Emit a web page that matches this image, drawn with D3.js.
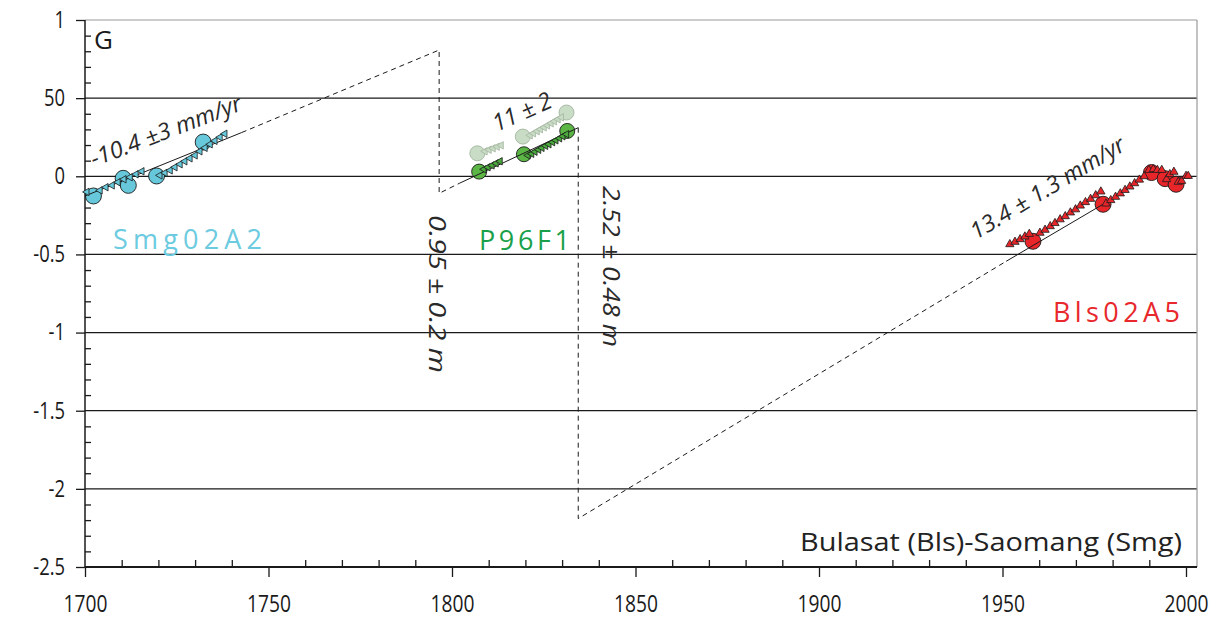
<!DOCTYPE html>
<html>
<head>
<meta charset="utf-8">
<script src="https://cdn.jsdelivr.net/npm/d3@7"></script>
<style>
  html, body { margin: 0; padding: 0; background: #fff; }
  svg { display: block; font-family: "Open Sans", "Noto Sans", sans-serif; }
</style>
</head>
<body>
<svg id="chart" width="1211" height="619"></svg>
<script>
// ---- Axis ticks ----
const xTicks = [1700, 1750, 1800, 1850, 1900, 1950, 2000];
const yTicks = [1, 0.5, 0, -0.5, -1, -1.5, -2, -2.5];
const yTickLabels = ["1", "50", "0", "-0.5", "-1", "-1.5", "-2", "-2.5"];
const gridValues = [0.5, 0, -0.5, -1, -1.5, -2];

// ---- Smg02A2 (light blue) ----
const smgYears  = [1702.3, 1710.4, 1711.8, 1719.5, 1732.2];
const smgValues = [-0.126, -0.013, -0.058, 0.002, 0.219];
const smgBandYears  = [1700.5, 1704.1, 1705.7, 1707.4, 1709.0, 1710.6, 1712.3, 1713.9, 1715.5,
                       1720.4, 1721.8, 1723.2, 1724.5, 1725.9, 1727.2, 1728.6, 1730.0, 1731.3,
                       1732.7, 1734.1, 1735.4, 1736.8, 1738.1];
const smgBandValues = [-0.100, -0.090, -0.070, -0.058, -0.038, -0.019, -0.006, 0.013, 0.032,
                       0.006, 0.022, 0.038, 0.058, 0.077, 0.096, 0.115, 0.134, 0.160,
                       0.182, 0.205, 0.227, 0.250, 0.272];
const smgFitYears  = [1700, 1742.7];
const smgFitValues = [-0.126, 0.28];

// ---- P96F1 (green) ----
const p96Years  = [1807.4, 1819.6, 1831.4];
const p96Values = [0.030, 0.141, 0.290];
const p96BandYears  = [1808.7, 1809.8, 1810.9, 1812.0, 1813.1,
                       1820.7, 1821.7, 1822.6, 1823.6, 1824.5, 1825.5, 1826.4, 1827.4, 1828.3, 1829.3, 1830.2, 1831.2];
const p96BandValues = [0.045, 0.058, 0.070, 0.083, 0.096,
                       0.134, 0.144, 0.157, 0.170, 0.182, 0.195, 0.205, 0.218, 0.230, 0.243, 0.256, 0.269];
const p96FitYears  = [1802, 1834.4];
const p96FitValues = [-0.045, 0.311];

// ---- P96F1 uncorrected (faded) ----
const p96RawYears  = [1806.9, 1819.3, 1831.2];
const p96RawValues = [0.147, 0.254, 0.408];
const p96RawBandYears  = [1809.0, 1810.1, 1811.2, 1812.3, 1813.4,
                          1821.3, 1822.2, 1823.2, 1824.1, 1825.1, 1826.0, 1827.0, 1827.9, 1828.9, 1829.8];
const p96RawBandValues = [0.160, 0.170, 0.179, 0.189, 0.198,
                          0.262, 0.275, 0.288, 0.301, 0.313, 0.326, 0.339, 0.352, 0.365, 0.377];

// ---- Bls02A5 (red) ----
const blsYears  = [1958.3, 1977.4, 1990.6, 1994.3, 1997.3];
const blsValues = [-0.416, -0.179, 0.024, -0.015, -0.051];
const blsBandYears  = [1952.0, 1953.4, 1954.8, 1956.1, 1957.3,
                       1960.2, 1961.6, 1963.0, 1964.3, 1965.7, 1967.1, 1968.5,
                       1969.9, 1971.2, 1972.6, 1974.0, 1975.4, 1976.8,
                       1978.2, 1979.5, 1980.8, 1982.1, 1983.4, 1984.7, 1986.0, 1987.3, 1988.6,
                       1989.9, 1991.1, 1992.2, 1993.4, 1994.7, 1995.6, 1996.7, 1997.9, 1998.8, 2000.0, 2000.6];
const blsBandValues = [-0.435, -0.420, -0.403, -0.386, -0.369,
                       -0.362, -0.343, -0.320, -0.300, -0.276, -0.256, -0.232,
                       -0.212, -0.188, -0.166, -0.145, -0.122, -0.098,
                       -0.175, -0.153, -0.132, -0.110, -0.088, -0.066, -0.045, -0.022, 0.000,
                       0.040, 0.045, 0.040, 0.040, -0.019, 0.013, 0.028, -0.036, -0.030, 0.002, 0.002];
const blsFitYears  = [1951, 1977.4];
const blsFitValues = [-0.544, -0.179];

// ---- Extrapolated cycles (dashed) ----
const cycleAYears  = [1742.7, 1796.5, 1796.5, 1802];
const cycleAValues = [0.28, 0.808, -0.109, -0.045];
const cycleBYears  = [1834.4, 1834.4, 1951];
const cycleBValues = [0.311, -2.19, -0.544];

// ---- Layout ----
const svg = d3.select("#chart");
const x = d3.scaleLinear().domain([1700, 2000]).range([85, 1186]);
const y = d3.scaleLinear().domain([-2.5, 1]).range([567, 20]);
const xEnd = 2003;
const ink = "#1a1a1a";

svg.append("rect").attr("width", 1211).attr("height", 619).attr("fill", "#fff");

// horizontal grid
svg.append("g").selectAll("line").data(gridValues).join("line")
  .attr("x1", x(1700)).attr("x2", x(xEnd))
  .attr("y1", d => y(d)).attr("y2", d => y(d))
  .attr("stroke", ink).attr("stroke-width", 1.3);

// light frame on top and right
svg.append("line").attr("x1", x(1700)).attr("x2", x(xEnd)).attr("y1", y(1)).attr("y2", y(1))
  .attr("stroke", "#9a9a9a").attr("stroke-width", 1.2);
svg.append("line").attr("x1", x(xEnd)).attr("x2", x(xEnd)).attr("y1", y(1)).attr("y2", y(-2.5))
  .attr("stroke", "#9a9a9a").attr("stroke-width", 1.2);

// minor ticks
const xMinor = d3.range(1710, 2001, 10).filter(v => v % 50 !== 0);
const yMinor = d3.range(-24, 10).map(v => v / 10).filter(v => Math.abs(v * 10) % 5 !== 0);
svg.append("g").attr("transform", `translate(0,${y(-2.5)})`)
  .call(d3.axisBottom(x).tickValues(xMinor).tickSize(-7).tickFormat(""))
  .call(g => g.select(".domain").remove())
  .selectAll("line").attr("stroke", ink).attr("stroke-width", 1.3);
svg.append("g").attr("transform", `translate(${x(1700)},0)`)
  .call(d3.axisLeft(y).tickValues(yMinor).tickSize(-6).tickFormat(""))
  .call(g => g.select(".domain").remove())
  .selectAll("line").attr("stroke", ink).attr("stroke-width", 1.3);

// major axes
const squeeze = 0.8;
svg.append("g").attr("transform", `translate(0,${y(-2.5)})`)
  .call(d3.axisBottom(x).tickValues(xTicks).tickSize(10).tickPadding(18).tickFormat(d3.format("d")))
  .call(g => g.select(".domain").remove())
  .call(g => g.selectAll("line").attr("stroke", ink).attr("stroke-width", 1.3))
  .call(g => g.selectAll("text").attr("font-size", 24).attr("fill", ink)
    .attr("font-family", "'Open Sans', sans-serif")
    .attr("transform", `scale(${squeeze},1)`));

svg.append("g").attr("transform", `translate(${x(1700)},0)`)
  .call(d3.axisLeft(y).tickValues(yTicks).tickSize(9).tickPadding(11)
    .tickFormat((d, i) => yTickLabels[i]))
  .call(g => g.select(".domain").remove())
  .call(g => g.selectAll("line").attr("stroke", ink).attr("stroke-width", 1.3))
  .call(g => g.selectAll("text").attr("font-size", 23).attr("fill", ink)
    .attr("font-family", "'Open Sans', sans-serif")
    .attr("x", -20 / squeeze)
    .attr("transform", `scale(${squeeze},1)`));

svg.append("line").attr("x1", x(1700)).attr("x2", x(1700)).attr("y1", y(1)).attr("y2", y(-2.5))
  .attr("stroke", ink).attr("stroke-width", 1.5);
svg.append("line").attr("x1", x(1700)).attr("x2", x(xEnd)).attr("y1", y(-2.5)).attr("y2", y(-2.5))
  .attr("stroke", ink).attr("stroke-width", 2.2);

// ---- helpers ----
const zip = (xs, ys) => xs.map((v, i) => [v, ys[i]]);
const line = d3.line().x(d => x(d[0])).y(d => y(d[1]));

function dashed(xs, ys) {
  svg.append("path").attr("d", line(zip(xs, ys)))
    .attr("fill", "none").attr("stroke", ink).attr("stroke-width", 1)
    .attr("stroke-dasharray", "5,4");
}
function fit(xs, ys) {
  svg.append("path").attr("d", line(zip(xs, ys)))
    .attr("fill", "none").attr("stroke", ink).attr("stroke-width", 1);
}
function circles(xs, ys, fill, stroke, r) {
  svg.append("g").selectAll("circle").data(zip(xs, ys)).join("circle")
    .attr("cx", d => x(d[0])).attr("cy", d => y(d[1])).attr("r", r)
    .attr("fill", fill).attr("stroke", stroke).attr("stroke-width", 0.9);
}
function bands(xs, ys, fill, stroke, angle, size) {
  const sym = d3.symbol(d3.symbolTriangle, size);
  svg.append("g").selectAll("path").data(zip(xs, ys)).join("path")
    .attr("d", sym)
    .attr("transform", d => `translate(${x(d[0])},${y(d[1])}) rotate(${angle})`)
    .attr("fill", fill).attr("stroke", stroke).attr("stroke-width", 0.8);
}

// extrapolated cycles
dashed(cycleAYears, cycleAValues);
dashed(cycleBYears, cycleBValues);

// faded P96F1
circles(p96RawYears, p96RawValues, "#c9dcc5", "#a3b59f", 7.5);
bands(p96RawBandYears, p96RawBandValues, "#c9dcc5", "#a3b59f", -90, 24);

// Smg02A2
circles(smgYears, smgValues, "#66c8da", ink, 8);
fit(smgFitYears, smgFitValues);
bands(smgBandYears, smgBandValues, "#66c8da", ink, -90, 24);

// P96F1
circles(p96Years, p96Values, "#5cb646", ink, 7.5);
fit(p96FitYears, p96FitValues);
bands(p96BandYears, p96BandValues, "#4aa93c", ink, -90, 24);

// Bls02A5
circles(blsYears, blsValues, "#e8262a", ink, 8);
fit(blsFitYears, blsFitValues);
bands(blsBandYears, blsBandValues, "#e8262a", ink, 0, 30);

// ---- text ----
function label(txt, px, py, opts) {
  const t = svg.append("text").text(txt)
    .attr("transform", `translate(${px},${py}) rotate(${opts.rotate || 0})`)
    .attr("font-size", opts.size).attr("fill", opts.fill || "#2a2a2a");
  if (opts.italic) t.attr("font-style", "italic");
  if (opts.length) t.attr("textLength", opts.length).attr("lengthAdjust", "spacingAndGlyphs");
  return t;
}

label("G", 94, 49, { size: 26, fill: ink });
label("-10.4 \u00b13 mm/yr", 94, 167, { size: 23, rotate: -21, length: 160, italic: true });
label("11 \u00b1 2", 497, 132, { size: 24, rotate: -24, length: 62, italic: true });
label("13.4 \u00b1 1.3 mm/yr", 976, 240, { size: 23, rotate: -31, length: 176, italic: true });
label("0.95 \u00b1 0.2 m", 429, 215, { size: 24, rotate: 90, length: 158, italic: true });
label("2.52 \u00b1 0.48 m", 603, 186, { size: 24, rotate: 90, length: 161, italic: true });

label("Smg02A2", 113, 249, { size: 27, fill: "#6ccbe0", length: 149 }).attr("lengthAdjust", "spacing");
label("P96F1", 479, 250, { size: 27, fill: "#1a9f4b", length: 91 }).attr("lengthAdjust", "spacing");
label("Bls02A5", 1053, 322, { size: 27, fill: "#e8282c", length: 127 }).attr("lengthAdjust", "spacing");

label("Bulasat (Bls)-Saomang (Smg)", 800, 551, { size: 25, fill: "#222", length: 382 });
</script>
</body>
</html>
